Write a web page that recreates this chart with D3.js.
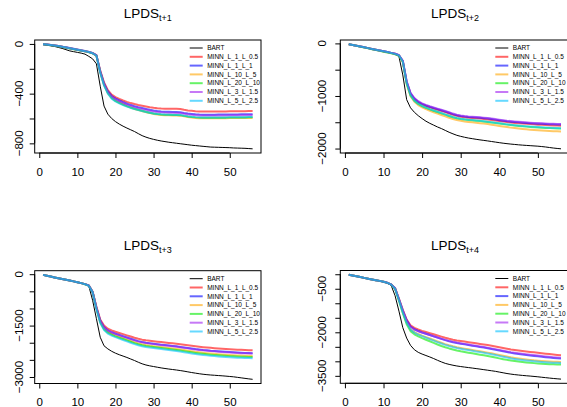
<!DOCTYPE html>
<html>
<head>
<meta charset="utf-8">
<script src="https://cdn.jsdelivr.net/npm/d3@7/dist/d3.min.js"></script>
<style>
  body { margin: 0; background: #fff; }
  svg text { font-family: "Liberation Sans", Arial, Helvetica, sans-serif; fill: #000; }
</style>
</head>
<body>
<svg id="chart" width="567" height="407"></svg>
<script>
/* periods 1..56 */
const periods = d3.range(1, 57)

const seriesNames = ['BART', 'MINN_L_1_L_0.5', 'MINN_L_1_L_1', 'MINN_L_10_L_5', 'MINN_L_20_L_10', 'MINN_L_3_L_1.5', 'MINN_L_5_L_2.5']
const seriesColors = ['#000000', 'rgba(255,0,0,0.6)', 'rgba(0,0,255,0.6)', 'rgba(255,165,0,0.6)', 'rgba(0,235,0,0.6)', 'rgba(160,32,240,0.6)', 'rgba(0,191,255,0.6)']

const xTicks = [0, 10, 20, 30, 40, 50]

/* ---------- LPDS t+1 ---------- */
const h1_BART = [-5, -10, -15, -20, -28, -36, -46, -56, -62, -68, -74, -82, -100, -120, -160, -340, -500, -565, -600, -625, -645, -662, -677, -691, -705, -722, -738, -750, -760, -768, -775, -781, -786, -791, -795, -799, -803, -807, -811, -815, -818, -821, -824, -827, -830, -831, -832, -833, -834, -835, -837, -838, -839, -840, -842, -844]
const h1_L1_05 = [-2, -5, -9, -13, -17, -22, -28, -34, -40, -46, -52, -58, -65, -74, -92, -215, -310, -372, -408, -428, -442, -455, -466, -476, -484, -491, -497, -503, -509, -514, -518, -520, -521, -522, -522, -522, -523, -530, -535, -538, -541, -543, -544, -544, -544, -544, -543, -543, -543, -542, -542, -542, -541, -541, -540, -540]
const h1_L1_1 = [-2, -5, -9, -13, -17, -22, -27, -33, -39, -45, -51, -57, -64, -73, -90, -220, -318, -382, -419, -440, -455, -469, -481, -492, -501, -509, -516, -523, -530, -536, -540, -543, -545, -546, -547, -548, -549, -555, -560, -563, -566, -568, -569, -569, -569, -569, -568, -568, -568, -567, -567, -567, -566, -566, -565, -565]
const h1_L10_5 = [-2, -5, -9, -13, -17, -22, -28, -34, -40, -46, -52, -58, -65, -74, -93, -226, -328, -394, -433, -456, -472, -487, -500, -512, -523, -532, -541, -549, -556, -563, -568, -571, -573, -574, -575, -576, -577, -583, -589, -593, -596, -598, -599, -599, -599, -599, -598, -598, -598, -597, -597, -597, -596, -596, -596, -596]
const h1_L20_10 = [-2, -6, -10, -14, -19, -24, -30, -36, -42, -48, -54, -60, -67, -76, -94, -228, -330, -396, -435, -458, -474, -488, -500, -511, -521, -530, -538, -546, -553, -560, -564, -567, -569, -570, -571, -572, -573, -579, -584, -588, -591, -593, -594, -594, -594, -594, -593, -593, -593, -592, -592, -592, -591, -591, -590, -590]
const h1_L3_15 = [-2, -5, -9, -13, -17, -22, -28, -34, -40, -46, -52, -58, -65, -74, -92, -222, -322, -386, -424, -446, -461, -475, -487, -498, -507, -515, -523, -530, -537, -543, -547, -550, -552, -553, -554, -555, -556, -562, -567, -570, -573, -575, -576, -576, -576, -576, -575, -575, -575, -574, -574, -574, -573, -573, -572, -572]
const h1_L5_25 = [-2, -5, -9, -13, -17, -22, -28, -34, -40, -46, -52, -58, -65, -75, -95, -232, -335, -400, -440, -462, -478, -492, -504, -515, -524, -532, -540, -547, -553, -559, -563, -566, -568, -569, -570, -571, -572, -578, -583, -586, -589, -591, -592, -592, -592, -592, -591, -591, -591, -590, -590, -590, -589, -589, -588, -588]

/* ---------- LPDS t+2 ---------- */
const h2_BART = [-15, -30, -45, -60, -75, -90, -105, -120, -135, -150, -165, -182, -200, -250, -600, -1070, -1225, -1310, -1375, -1430, -1480, -1520, -1555, -1590, -1620, -1655, -1690, -1720, -1748, -1768, -1785, -1800, -1812, -1824, -1835, -1845, -1855, -1866, -1877, -1888, -1898, -1907, -1915, -1922, -1929, -1935, -1940, -1945, -1950, -1955, -1962, -1970, -1980, -1990, -1998, -2005]
const h2_L1_05 = [-15, -30, -45, -60, -75, -90, -105, -120, -135, -150, -165, -180, -198, -226, -338, -735, -958, -1060, -1120, -1160, -1190, -1216, -1240, -1262, -1285, -1308, -1333, -1358, -1378, -1394, -1404, -1412, -1418, -1424, -1430, -1437, -1446, -1456, -1467, -1477, -1487, -1497, -1505, -1512, -1518, -1524, -1530, -1535, -1540, -1545, -1549, -1553, -1557, -1560, -1563, -1565]
const h2_L1_1 = [-15, -30, -45, -60, -75, -90, -105, -120, -135, -150, -165, -180, -198, -225, -335, -730, -950, -1050, -1110, -1150, -1180, -1205, -1228, -1250, -1272, -1295, -1320, -1345, -1365, -1380, -1390, -1398, -1404, -1410, -1416, -1422, -1430, -1440, -1450, -1460, -1470, -1480, -1488, -1495, -1501, -1507, -1512, -1517, -1522, -1526, -1530, -1534, -1537, -1540, -1542, -1544]
const h2_L10_5 = [-15, -30, -45, -60, -75, -90, -105, -121, -137, -153, -169, -185, -203, -232, -352, -770, -1005, -1110, -1172, -1215, -1250, -1281, -1309, -1336, -1362, -1388, -1414, -1438, -1458, -1473, -1484, -1493, -1501, -1509, -1517, -1525, -1535, -1546, -1558, -1570, -1581, -1592, -1602, -1611, -1619, -1627, -1634, -1641, -1647, -1653, -1658, -1663, -1667, -1670, -1673, -1675]
const h2_L20_10 = [-15, -30, -46, -62, -78, -94, -110, -126, -142, -158, -174, -190, -208, -234, -350, -760, -990, -1090, -1150, -1192, -1225, -1254, -1280, -1305, -1330, -1355, -1381, -1405, -1424, -1438, -1448, -1456, -1463, -1470, -1477, -1484, -1493, -1503, -1514, -1525, -1535, -1545, -1554, -1562, -1570, -1577, -1583, -1589, -1594, -1599, -1603, -1607, -1611, -1614, -1617, -1620]
const h2_L3_15 = [-15, -30, -45, -60, -75, -90, -105, -120, -135, -150, -165, -180, -198, -225, -330, -720, -940, -1040, -1100, -1140, -1170, -1195, -1218, -1240, -1262, -1285, -1310, -1335, -1355, -1370, -1380, -1388, -1394, -1400, -1406, -1412, -1420, -1430, -1440, -1450, -1460, -1470, -1478, -1485, -1491, -1497, -1502, -1507, -1512, -1516, -1520, -1524, -1527, -1530, -1532, -1534]
const h2_L5_25 = [-15, -30, -45, -60, -75, -90, -105, -120, -135, -150, -165, -181, -199, -228, -345, -755, -985, -1088, -1148, -1190, -1222, -1250, -1276, -1300, -1325, -1350, -1376, -1400, -1420, -1434, -1444, -1452, -1459, -1466, -1473, -1480, -1489, -1499, -1510, -1520, -1530, -1540, -1548, -1556, -1563, -1570, -1576, -1582, -1587, -1592, -1596, -1600, -1604, -1607, -1610, -1612]

/* ---------- LPDS t+3 ---------- */
const h3_BART = [-20, -45, -70, -95, -118, -141, -164, -187, -210, -233, -262, -295, -345, -760, -1300, -1840, -2090, -2180, -2250, -2305, -2350, -2390, -2430, -2475, -2520, -2570, -2615, -2650, -2675, -2695, -2715, -2735, -2752, -2768, -2782, -2796, -2812, -2830, -2850, -2870, -2888, -2905, -2920, -2932, -2942, -2950, -2958, -2966, -2975, -2985, -2995, -3010, -3025, -3040, -3055, -3068]
const h3_L1_05 = [-20, -45, -70, -95, -118, -141, -164, -187, -210, -233, -260, -290, -330, -510, -950, -1320, -1500, -1590, -1640, -1680, -1715, -1750, -1785, -1820, -1855, -1885, -1910, -1930, -1945, -1958, -1970, -1982, -1993, -2005, -2018, -2030, -2045, -2060, -2075, -2090, -2105, -2118, -2130, -2140, -2150, -2158, -2166, -2174, -2182, -2189, -2196, -2202, -2208, -2213, -2218, -2222]
const h3_L1_1 = [-20, -45, -70, -95, -118, -141, -164, -187, -210, -233, -260, -290, -330, -515, -970, -1355, -1545, -1640, -1695, -1738, -1775, -1812, -1849, -1886, -1922, -1953, -1979, -2000, -2016, -2030, -2043, -2056, -2068, -2080, -2093, -2106, -2122, -2138, -2154, -2170, -2186, -2199, -2212, -2222, -2233, -2241, -2250, -2258, -2266, -2274, -2281, -2287, -2293, -2298, -2302, -2305]
const h3_L10_5 = [-20, -45, -70, -95, -118, -141, -164, -187, -210, -233, -261, -292, -333, -522, -990, -1390, -1590, -1690, -1748, -1793, -1833, -1872, -1911, -1950, -1988, -2020, -2047, -2069, -2086, -2101, -2114, -2128, -2141, -2154, -2168, -2181, -2198, -2215, -2232, -2249, -2266, -2280, -2293, -2304, -2315, -2324, -2333, -2341, -2349, -2357, -2364, -2370, -2375, -2379, -2382, -2384]
const h3_L20_10 = [-20, -45, -70, -95, -118, -141, -164, -187, -210, -233, -261, -292, -334, -526, -1000, -1405, -1607, -1708, -1767, -1813, -1853, -1893, -1933, -1973, -2012, -2045, -2073, -2095, -2113, -2128, -2142, -2156, -2169, -2183, -2197, -2211, -2228, -2245, -2263, -2280, -2297, -2312, -2325, -2337, -2348, -2357, -2366, -2375, -2383, -2391, -2398, -2404, -2409, -2412, -2415, -2417]
const h3_L3_15 = [-20, -45, -70, -95, -118, -141, -164, -187, -210, -233, -260, -290, -331, -518, -975, -1360, -1552, -1648, -1703, -1746, -1784, -1821, -1858, -1895, -1932, -1963, -1989, -2010, -2026, -2040, -2053, -2066, -2078, -2090, -2103, -2116, -2132, -2148, -2164, -2180, -2196, -2209, -2222, -2233, -2244, -2252, -2261, -2269, -2277, -2285, -2292, -2298, -2304, -2309, -2313, -2316]
const h3_L5_25 = [-20, -45, -70, -95, -118, -141, -164, -187, -210, -233, -261, -293, -336, -530, -1015, -1425, -1630, -1732, -1792, -1838, -1879, -1919, -1960, -2000, -2040, -2073, -2101, -2124, -2142, -2157, -2171, -2185, -2199, -2213, -2227, -2241, -2259, -2277, -2295, -2312, -2329, -2344, -2357, -2369, -2380, -2390, -2399, -2408, -2416, -2424, -2431, -2437, -2442, -2445, -2448, -2450]

/* ---------- LPDS t+4 ---------- */
const h4_BART = [-20, -48, -76, -104, -130, -156, -182, -207, -232, -265, -305, -390, -740, -1270, -1840, -2200, -2450, -2600, -2690, -2750, -2800, -2850, -2905, -2965, -3020, -3070, -3105, -3135, -3160, -3180, -3198, -3215, -3232, -3250, -3268, -3287, -3306, -3325, -3345, -3370, -3395, -3420, -3440, -3458, -3472, -3485, -3497, -3508, -3520, -3533, -3548, -3562, -3577, -3590, -3602, -3613]
const h4_L1_05 = [-15, -42, -70, -98, -125, -152, -180, -205, -228, -260, -295, -350, -480, -850, -1230, -1560, -1760, -1850, -1905, -1950, -1990, -2030, -2070, -2110, -2150, -2190, -2225, -2255, -2280, -2300, -2320, -2340, -2360, -2380, -2400, -2420, -2440, -2465, -2490, -2515, -2540, -2565, -2590, -2610, -2628, -2645, -2660, -2675, -2690, -2705, -2720, -2735, -2750, -2765, -2780, -2793]
const h4_L1_1 = [-15, -42, -70, -98, -125, -152, -180, -205, -228, -260, -296, -352, -485, -860, -1250, -1590, -1800, -1895, -1955, -2005, -2050, -2095, -2140, -2185, -2228, -2270, -2308, -2340, -2368, -2392, -2415, -2438, -2460, -2482, -2504, -2526, -2548, -2572, -2598, -2625, -2652, -2680, -2706, -2728, -2748, -2766, -2782, -2798, -2814, -2829, -2844, -2858, -2872, -2885, -2896, -2906]
const h4_L10_5 = [-15, -42, -70, -98, -125, -152, -180, -205, -228, -260, -297, -355, -495, -885, -1300, -1660, -1890, -1995, -2060, -2115, -2165, -2215, -2265, -2315, -2362, -2407, -2447, -2482, -2512, -2538, -2562, -2585, -2608, -2631, -2654, -2677, -2700, -2725, -2752, -2780, -2808, -2836, -2862, -2884, -2903, -2920, -2936, -2951, -2966, -2977, -2987, -2996, -3004, -3011, -3016, -3020]
const h4_L20_10 = [-15, -42, -70, -98, -125, -152, -180, -205, -228, -260, -298, -358, -505, -910, -1345, -1720, -1960, -2070, -2140, -2200, -2255, -2310, -2365, -2420, -2470, -2515, -2555, -2590, -2625, -2655, -2680, -2703, -2725, -2748, -2770, -2793, -2817, -2843, -2870, -2898, -2925, -2950, -2972, -2991, -3008, -3023, -3037, -3050, -3062, -3073, -3082, -3090, -3097, -3103, -3108, -3112]
const h4_L3_15 = [-15, -42, -70, -98, -125, -152, -180, -205, -228, -260, -296, -352, -485, -862, -1255, -1598, -1810, -1905, -1962, -2010, -2053, -2096, -2138, -2180, -2220, -2260, -2296, -2327, -2354, -2377, -2399, -2421, -2443, -2465, -2487, -2509, -2531, -2555, -2580, -2606, -2632, -2658, -2683, -2704, -2723, -2740, -2756, -2771, -2786, -2801, -2816, -2830, -2844, -2857, -2869, -2880]
const h4_L5_25 = [-15, -42, -70, -98, -125, -152, -180, -205, -228, -260, -297, -356, -498, -892, -1312, -1675, -1905, -2012, -2078, -2134, -2185, -2236, -2287, -2338, -2386, -2432, -2473, -2509, -2540, -2566, -2590, -2613, -2636, -2659, -2682, -2705, -2729, -2755, -2783, -2812, -2841, -2869, -2895, -2917, -2936, -2953, -2969, -2984, -2998, -3010, -3021, -3030, -3038, -3045, -3050, -3054]

/* y ticks, and the labels R kept after dropping overlapping ones */
const h1_yTicks = [0, -200, -400, -600, -800], h1_yLabels = [0, -400, -800]
const h2_yTicks = [0, -500, -1000, -1500, -2000], h2_yLabels = [0, -1000, -2000]
const h3_yTicks = [0, -500, -1000, -1500, -2000, -2500, -3000], h3_yLabels = [0, -1500, -3000]
const h4_yTicks = [0, -500, -1000, -1500, -2000, -2500, -3000, -3500], h4_yLabels = [-500, -2000, -3500]

const panels = [
    {sub: 't+1', series: [h1_BART, h1_L1_05, h1_L1_1, h1_L10_5, h1_L20_10, h1_L3_15, h1_L5_25], yTicks: h1_yTicks, yLabels: h1_yLabels, x0: 34.7, x1: 261, y0: 40, y1: 153, titleY: 18.3, yLabX: 22.5},
    {sub: 't+2', series: [h2_BART, h2_L1_05, h2_L1_1, h2_L10_5, h2_L20_10, h2_L3_15, h2_L5_25], yTicks: h2_yTicks, yLabels: h2_yLabels, x0: 340.3, x1: 569.5, y0: 40, y1: 153, titleY: 18.3, yLabX: 326},
    {sub: 't+3', series: [h3_BART, h3_L1_05, h3_L1_1, h3_L10_5, h3_L20_10, h3_L3_15, h3_L5_25], yTicks: h3_yTicks, yLabels: h3_yLabels, x0: 34.7, x1: 261, y0: 270.7, y1: 383.5, titleY: 249.5, yLabX: 22.5},
    {sub: 't+4', series: [h4_BART, h4_L1_05, h4_L1_1, h4_L10_5, h4_L20_10, h4_L3_15, h4_L5_25], yTicks: h4_yTicks, yLabels: h4_yLabels, x0: 340.3, x1: 569.5, y0: 270.5, y1: 383.3, titleY: 249.5, yLabX: 326}
]

const svg = d3.select('#chart')

panels.forEach(p => {
    const g = svg.append('g')

    /* R style axis range: data range padded 4% on each side */
    const xExt = d3.extent(periods), xPad = (xExt[1] - xExt[0]) * 0.04
    const x = d3.scaleLinear().domain([xExt[0] - xPad, xExt[1] + xPad]).range([p.x0, p.x1])

    const yExt = d3.extent(p.series.flat()), yPad = (yExt[1] - yExt[0]) * 0.04
    const y = d3.scaleLinear().domain([yExt[0] - yPad, yExt[1] + yPad]).range([p.y1, p.y0])

    /* clip to box, lines may not leak */
    const clipId = 'clip' + p.sub.replace('+', '')
    g.append('clipPath').attr('id', clipId)
        .append('rect').attr('x', p.x0).attr('y', p.y0).attr('width', p.x1 - p.x0).attr('height', p.y1 - p.y0)

    const line = d3.line().x((d, i) => x(periods[i])).y(d => y(d))

    g.append('g').attr('clip-path', `url(#${clipId})`)
        .selectAll('path')
        .data(p.series)
        .join('path')
        .attr('d', d => line(d))
        .attr('fill', 'none')
        .attr('stroke', (d, i) => seriesColors[i])
        .attr('stroke-width', (d, i) => i == 0 ? 1 : 2)
        .attr('stroke-linejoin', 'round')

    /* box */
    g.append('rect')
        .attr('x', p.x0).attr('y', p.y0)
        .attr('width', p.x1 - p.x0).attr('height', p.y1 - p.y0)
        .attr('fill', 'none').attr('stroke', '#000').attr('stroke-width', 1)

    /* x axis */
    const xAxis = d3.axisBottom(x).tickValues(xTicks).tickSize(5).tickPadding(9.5)
    const gx = g.append('g').attr('transform', `translate(0,${p.y1})`).call(xAxis)
    gx.select('.domain').attr('d', `M${x(xTicks[0])},0H${x(xTicks[xTicks.length - 1])}`)
    gx.selectAll('text').attr('font-size', 11.5).attr('font-family', null)

    /* y axis: ticks then rotated labels */
    const yAxis = d3.axisLeft(y).tickValues(p.yTicks).tickSize(5).tickFormat('')
    const gy = g.append('g').attr('transform', `translate(${p.x0},0)`).call(yAxis)
    gy.select('.domain').attr('d', `M0,${y(p.yTicks[p.yTicks.length - 1])}V${y(p.yTicks[0])}`)

    g.selectAll('.ylab')
        .data(p.yLabels)
        .join('text')
        .attr('transform', d => `translate(${p.yLabX},${y(d)}) rotate(-90)`)
        .attr('text-anchor', 'middle')
        .attr('font-size', 11.5)
        .text(d => d == 0 ? '0' : '\u2212' + Math.abs(d))

    /* title with subscript */
    const title = g.append('text')
        .attr('x', (p.x0 + p.x1) / 2)
        .attr('y', p.titleY)
        .attr('text-anchor', 'middle')
        .attr('font-size', 13.5)
    title.append('tspan').text('LPDS')
    title.append('tspan').attr('dy', 3).attr('font-size', 9).text(p.sub)

    /* legend, no frame */
    const lg = g.append('g').attr('transform', `translate(${p.x0 + 155},${p.y0 + 8})`)
    seriesNames.forEach((name, i) => {
        lg.append('line')
            .attr('x1', 0).attr('x2', 13)
            .attr('y1', i * 8.8).attr('y2', i * 8.8)
            .attr('stroke', seriesColors[i])
            .attr('stroke-width', i == 0 ? 1 : 2)
        lg.append('text')
            .attr('x', 17.5).attr('y', i * 8.8)
            .attr('dy', '0.35em')
            .attr('font-size', 6.5)
            .text(name)
    })
})
</script>
</body>
</html>
